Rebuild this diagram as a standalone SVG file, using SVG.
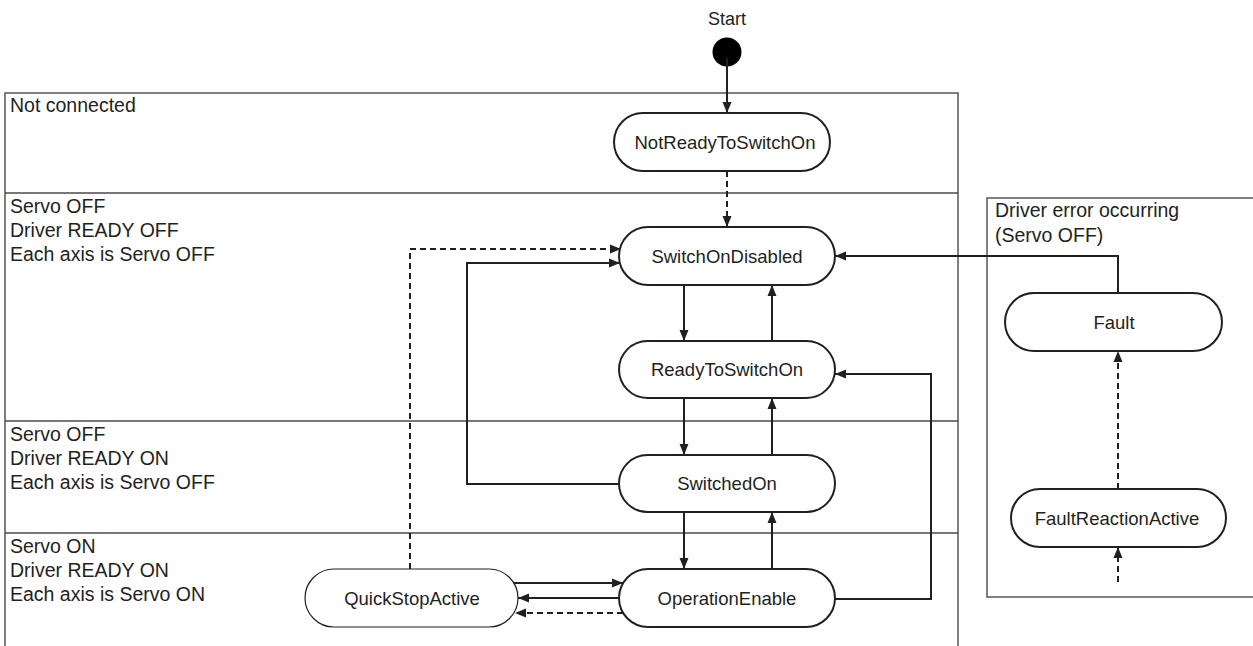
<svg xmlns="http://www.w3.org/2000/svg" width="1253" height="646" viewBox="0 0 1253 646">
<defs>
<marker id="arr" markerUnits="userSpaceOnUse" markerWidth="12" markerHeight="10" refX="11" refY="5" orient="auto">
<path d="M0,0.5 L11,5 L0,9.5 z" fill="#231f20"/>
</marker>
<style>
.frame{fill:none;stroke:#4a4a4a;stroke-width:1.4}
.lbl{font-family:"Liberation Sans",Arial,sans-serif;font-size:19.5px;fill:#231f20}
.node rect{fill:#fff;stroke:#231f20;stroke-width:2}
.node text{font-family:"Liberation Sans",Arial,sans-serif;font-size:18.5px;fill:#231f20;text-anchor:middle}
.c{fill:none;stroke:#231f20;stroke-width:2;marker-end:url(#arr)}
.d{stroke-dasharray:6 4}
.nm{marker-end:none}
</style>
</defs>
<rect width="1253" height="646" fill="#fff"/>

<g id="frames">
<rect class="frame" x="5" y="93" width="953" height="570"/>
<line class="frame" x1="5" y1="193" x2="958" y2="193"/>
<line class="frame" x1="5" y1="421" x2="958" y2="421"/>
<line class="frame" x1="5" y1="533" x2="958" y2="533"/>
<rect class="frame" x="987" y="198" width="290" height="399"/>
</g>

<g id="labels">
<text class="lbl" x="10" y="112">Not connected</text>
<text class="lbl" x="10" y="213">Servo OFF</text>
<text class="lbl" x="10" y="237">Driver READY OFF</text>
<text class="lbl" x="10" y="261">Each axis is Servo OFF</text>
<text class="lbl" x="10" y="441">Servo OFF</text>
<text class="lbl" x="10" y="465">Driver READY ON</text>
<text class="lbl" x="10" y="489">Each axis is Servo OFF</text>
<text class="lbl" x="10" y="553">Servo ON</text>
<text class="lbl" x="10" y="577">Driver READY ON</text>
<text class="lbl" x="10" y="601">Each axis is Servo ON</text>
<text class="lbl" x="995" y="217">Driver error occurring</text>
<text class="lbl" x="995" y="242">(Servo OFF)</text>
</g>

<g id="start">
<text x="727" y="25" font-family="Liberation Sans, Arial, sans-serif" font-size="18" fill="#231f20" text-anchor="middle">Start</text>
<circle cx="727" cy="52" r="14.5" fill="#000"/>
</g>

<g id="connectors">
<path class="c" d="M727,58 V113"/>
<path class="c d" d="M727,171 V227"/>
<path class="c" d="M684,285 V341"/>
<path class="c" d="M772,341 V285"/>
<path class="c" d="M684,398 V455"/>
<path class="c" d="M772,455 V398"/>
<path class="c" d="M684,512 V569"/>
<path class="c" d="M772,569 V512"/>
<path class="c" d="M619,484 H467 V263 H620"/>
<path class="c d" d="M410,569 V249 H621"/>
<path class="c" d="M619,598 H518"/>
<path class="c" d="M514,583 H623"/>
<path class="c d" d="M623,613 H515"/>
<path class="c" d="M835,599 H931 V374 H835"/>
<path class="c" d="M1118,293 V256 H835"/>
<path class="c d" d="M1118,489 V351"/>
<path class="c d" d="M1118,582 V547"/>
</g>

<g id="NotReadyToSwitchOn" class="node">
<rect x="614" y="113" width="216" height="58" rx="29"/>
<text x="725" y="148.5">NotReadyToSwitchOn</text>
</g>
<g id="SwitchOnDisabled" class="node">
<rect x="619" y="227" width="216" height="58" rx="29"/>
<text x="727" y="262.5">SwitchOnDisabled</text>
</g>
<g id="ReadyToSwitchOn" class="node">
<rect x="619" y="341" width="216" height="57" rx="28.5"/>
<text x="727" y="376">ReadyToSwitchOn</text>
</g>
<g id="SwitchedOn" class="node">
<rect x="619" y="455" width="216" height="57" rx="28.5"/>
<text x="727" y="490">SwitchedOn</text>
</g>
<g id="OperationEnable" class="node">
<rect x="619" y="569" width="216" height="58" rx="29"/>
<text x="727" y="605">OperationEnable</text>
</g>
<g id="QuickStopActive" class="node">
<rect x="305" y="569" width="213" height="58" rx="29" style="stroke-width:1.2"/>
<text x="412" y="604.5">QuickStopActive</text>
</g>
<g id="Fault" class="node">
<rect x="1005" y="293" width="217" height="58" rx="29"/>
<text x="1114" y="328.5">Fault</text>
</g>
<g id="FaultReactionActive" class="node">
<rect x="1011" y="489" width="215" height="58" rx="29"/>
<text x="1117" y="525">FaultReactionActive</text>
</g>
</svg>
